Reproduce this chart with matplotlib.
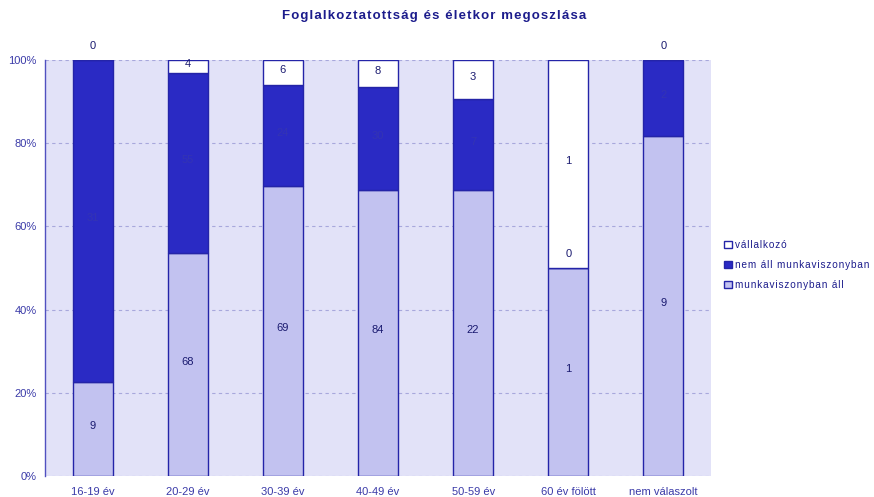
import matplotlib
matplotlib.use("Agg")
import matplotlib.pyplot as plt
import numpy as np

categories = ["16-19 év", "20-29 év", "30-39 év", "40-49 év",
              "50-59 év", "60 év fölött", "nem válaszolt"]
employed = [9, 68, 69, 84, 22, 1, 9]          # munkaviszonyban áll
not_employed = [31, 55, 24, 30, 7, 0, 2]      # nem áll munkaviszonyban
entrepreneur = [0, 4, 6, 8, 3, 1, 0]          # vállalkozó
series_names = ["munkaviszonyban áll", "nem áll munkaviszonyban", "vállalkozó"]
title = "Foglalkoztatottság és életkor megoszlása"

NAVY = "#1c1c8c"
EDGE = "#2424a8"
colors = ["#c2c2f0", "#2a2ac4", "#ffffff"]
label_colors = ["#1a1a70", "#3434b4", "#1a1a70"]

plt.rcParams["font.family"] = ["Liberation Sans", "DejaVu Sans"]


def spaced(s):
    # the original chart uses loosely tracked text
    return "\u200a".join(s)


fig = plt.figure(figsize=(8.74, 4.97), dpi=100)
ax = fig.add_axes([0.0515, 0.0423, 0.762, 0.837])
ax.set_facecolor("#e2e2f8")

data = np.array([employed, not_employed, entrepreneur], dtype=float)
totals = data.sum(axis=0)
shares = data / totals * 100
x = np.arange(len(categories))
bottom = np.zeros(len(categories))
bars = []
for i, name in enumerate(series_names):
    b = ax.bar(x, shares[i], 0.42, bottom=bottom, color=colors[i],
               edgecolor=EDGE, linewidth=1.0, label=name, zorder=3)
    bars.append(b)
    for j in range(len(categories)):
        val = int(data[i, j])
        mid = bottom[j] + shares[i, j] / 2
        if shares[i, j] == 0:
            ax.annotate(str(val), (x[j], bottom[j]), xytext=(0, 10),
                        textcoords="offset points", ha="center", va="center",
                        fontsize=8, color=label_colors[2], zorder=4)
        else:
            ax.annotate(str(val), (x[j], mid), xytext=(0, 2),
                        textcoords="offset points", ha="center", va="center",
                        fontsize=8, color=label_colors[i], zorder=4)
    bottom = bottom + shares[i]

ax.set_xlim(-0.5, len(categories) - 0.5)
ax.set_ylim(0, 100)
ax.set_yticks([0, 20, 40, 60, 80, 100])
ax.set_yticklabels([f"{v}%" for v in range(0, 101, 20)])
ax.set_xticks(x)
ax.set_xticklabels(categories)
ax.tick_params(axis="both", length=0, labelsize=8, colors="#3a3aa8")
ax.tick_params(axis="x", pad=8)
ax.tick_params(axis="y", pad=6)
ax.yaxis.grid(True, linestyle=(0, (3, 3)), color="#a8a8dc", linewidth=0.8, zorder=0)

for side in ["top", "right", "bottom"]:
    ax.spines[side].set_visible(False)
ax.spines["left"].set_color("#5050c0")
ax.spines["left"].set_linewidth(1.0)

fig.text(0.497, 0.968, spaced(title), ha="center", va="center",
         fontsize=9.5, fontweight="bold", color=NAVY)

handles = [bars[2], bars[1], bars[0]]
leg = fig.legend(handles, [spaced(series_names[2]), spaced(series_names[1]),
                           spaced(series_names[0])],
                 loc="upper left", bbox_to_anchor=(0.818, 0.535), frameon=False,
                 fontsize=7.2, handlelength=0.8, handleheight=0.8,
                 handletextpad=0.3, labelspacing=1.0, labelcolor=NAVY)

fig.savefig("out.png", dpi=100)
